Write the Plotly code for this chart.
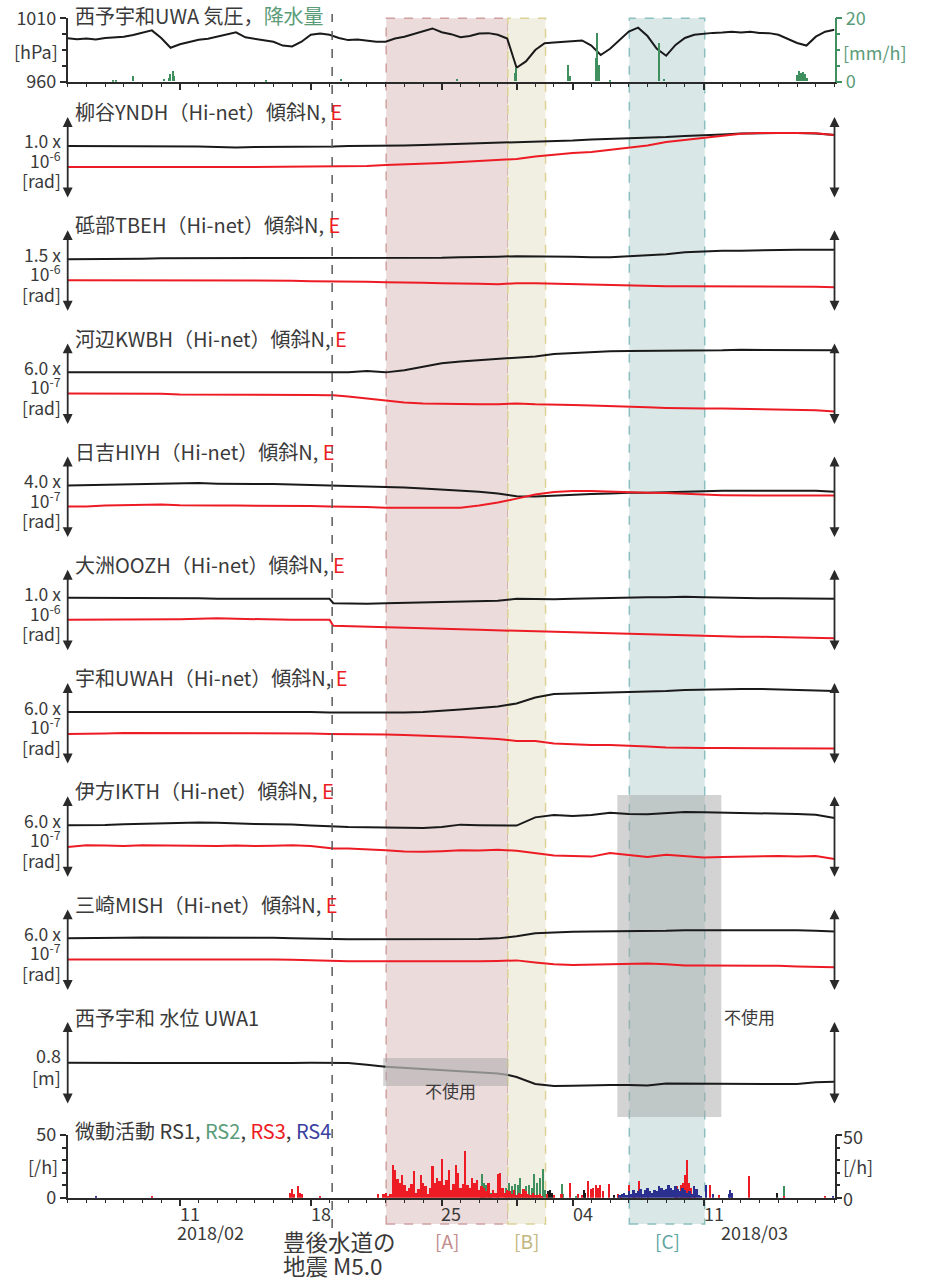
import pandas as pd
import plotly.graph_objects as go

W, H = 928, 1280
START = pd.Timestamp("2018-02-05")
END = pd.Timestamp("2018-03-18")
FONT = "Noto Sans CJK JP, Noto Sans, sans-serif"
TXT = "#3a3a3a"
AX = "#2a2a2a"
BLACK = "#1a1a1a"
RED = "#ED1C24"
GREEN = "#3f8f5f"
GREEN_T = "#5a9c78"
BLUE = "#2b2f8f"
BLUE_T = "#3b3fa0"


def T(days):
    return [START + pd.Timedelta(days=float(d)) for d in days]


# ---------------- data ----------------
# Pressure [hPa], every 12 h from 2018-02-05
P_DAYS = [i * 0.5 for i in range(83)]
PRESSURE = [994.2, 993.5, 994.0, 993.2, 994.5, 995.0, 995.5, 996.8, 998.5, 1000.5,
            994.5, 986.8, 989.5, 991.5, 993.0, 993.8, 995.5, 997.0, 999.0, 995.0,
            994.0, 993.0, 991.5, 988.5, 987.8, 991.5, 997.0, 998.0, 997.0, 994.5,
            992.8, 993.2, 992.3, 991.5, 991.5, 994.0, 995.5, 997.5, 1000.0, 1002.0,
            999.0, 997.5, 995.0, 996.0, 998.0, 998.3, 997.0, 994.0, 971.0, 976.0,
            985.0, 990.3, 991.0, 991.5, 991.6, 992.5, 988.5, 981.0, 986.0, 993.0,
            999.5, 1002.6, 996.0, 986.0, 980.5, 989.0, 994.5, 997.0, 998.0, 998.5,
            998.8, 999.4, 998.8, 999.4, 998.5, 998.3, 997.0, 993.5, 990.5, 988.5,
            995.5, 999.4, 1001.0]

# Rain [mm/h]
RAIN_DAYS = [2.4, 2.55, 3.48, 5.12, 5.4, 5.48, 5.6, 5.65, 10.6, 14.6, 20.8, 23.9, 23.95,
             26.75, 26.82, 28.22, 28.28, 28.4, 29.0, 31.6, 31.85, 39.0, 39.1, 39.2, 39.3,
             39.4, 39.5]
RAIN_MM = [0.3, 0.3, 1.6, 0.7, 1.0, 2.4, 3.4, 1.6, 0.3, 0.8, 0.7, 2.8, 4.2,
           5.3, 1.8, 7.4, 15.2, 5.3, 0.3, 12.1, 0.7, 2.0, 3.2, 2.6, 3.0, 2.2, 1.2]

# Tilt [1e-7 rad], daily (extra point just after the earthquake)
DAYS = list(range(0, 15)) + [14.2] + list(range(15, 42))

YNDH_N = [6.47, 6.47, 6.47, 6.47, 6.47, 6.41, 6.41, 6.41, 6.34, 6.28, 6.34, 6.34, 6.41, 6.41, 6.41, 6.41,
          6.47, 6.47, 6.47, 6.53, 6.59, 6.65, 6.71, 6.77, 6.83, 6.89, 7.02, 7.08, 7.14, 7.26, 7.32, 7.44,
          7.50, 7.56, 7.69, 7.75, 7.87, 7.99, 8.05, 8.05, 8.05, 7.99, 7.81]
YNDH_E = [3.90, 3.91, 3.90, 3.89, 3.88, 3.88, 3.89, 3.90, 3.90, 3.89, 3.90, 3.91, 3.92, 3.92, 3.94, 3.94,
          3.97, 4.03, 4.15, 4.21, 4.27, 4.39, 4.51, 4.64, 4.76, 4.88, 5.19, 5.43, 5.61, 5.73, 5.98, 6.26,
          6.53, 6.95, 7.20, 7.47, 7.75, 7.97, 8.05, 8.08, 8.05, 8.02, 7.81]

TBEH_N = [9.70, 9.70, 9.79, 9.79, 9.79, 9.88, 9.88, 9.88, 9.88, 9.88, 9.88, 9.88, 9.88, 9.88, 9.88, 9.88,
          9.88, 9.88, 9.88, 9.88, 9.97, 9.97, 10.07, 10.07, 10.16, 10.25, 10.25, 10.25, 10.16, 10.07, 10.07,
          10.25, 10.43, 10.61, 10.98, 11.16, 11.25, 11.25, 11.35, 11.35, 11.44, 11.44, 11.44]
TBEH_E = [5.86, 5.86, 5.86, 5.86, 5.86, 5.86, 5.86, 5.86, 5.86, 5.86, 5.86, 5.86, 5.76, 5.67, 5.67, 5.67,
          5.67, 5.58, 5.49, 5.49, 5.40, 5.31, 5.31, 5.22, 5.12, 5.31, 5.31, 5.22, 5.12, 5.12, 5.03, 4.94,
          4.85, 4.76, 4.76, 4.76, 4.76, 4.76, 4.76, 4.76, 4.67, 4.67, 4.58]

KWBH_N = [3.88, 3.88, 3.92, 3.92, 3.92, 3.92, 3.92, 3.92, 3.88, 3.88, 3.88, 3.88, 3.88, 3.88, 3.88, 3.88,
          3.88, 3.98, 3.88, 4.03, 4.28, 4.54, 4.68, 4.76, 4.87, 4.94, 5.05, 5.23, 5.31, 5.38, 5.42, 5.45,
          5.45, 5.49, 5.49, 5.49, 5.49, 5.53, 5.53, 5.49, 5.49, 5.49, 5.49]
KWBH_E = [2.34, 2.34, 2.31, 2.31, 2.34, 2.31, 2.27, 2.27, 2.27, 2.27, 2.23, 2.23, 2.27, 2.23, 2.20, 2.20,
          2.12, 1.98, 1.83, 1.68, 1.61, 1.57, 1.54, 1.54, 1.54, 1.61, 1.54, 1.54, 1.50, 1.46, 1.43, 1.35,
          1.32, 1.28, 1.24, 1.24, 1.24, 1.21, 1.17, 1.17, 1.13, 1.10, 1.02]

HIYH_N = [2.59, 2.61, 2.61, 2.64, 2.66, 2.68, 2.68, 2.71, 2.68, 2.66, 2.66, 2.66, 2.64, 2.61, 2.59, 2.59,
          2.56, 2.54, 2.51, 2.49, 2.44, 2.39, 2.34, 2.29, 2.20, 2.07, 2.05, 2.10, 2.15, 2.17, 2.20, 2.24,
          2.24, 2.27, 2.29, 2.32, 2.34, 2.34, 2.34, 2.34, 2.37, 2.34, 2.29]
HIYH_E = [1.56, 1.56, 1.61, 1.63, 1.66, 1.66, 1.63, 1.61, 1.61, 1.61, 1.61, 1.61, 1.61, 1.59, 1.56, 1.56,
          1.56, 1.54, 1.51, 1.51, 1.51, 1.51, 1.51, 1.61, 1.76, 1.95, 2.15, 2.27, 2.32, 2.32, 2.29, 2.24,
          2.24, 2.22, 2.20, 2.15, 2.12, 2.10, 2.10, 2.10, 2.10, 2.10, 2.10]

OOZH_N = [6.59, 6.59, 6.59, 6.53, 6.59, 6.59, 6.53, 6.53, 6.47, 6.47, 6.53, 6.53, 6.47, 6.47, 6.47, 5.92,
          5.86, 5.86, 5.92, 5.98, 5.98, 6.04, 6.10, 6.16, 6.22, 6.47, 6.41, 6.41, 6.47, 6.53, 6.59, 6.59,
          6.65, 6.65, 6.71, 6.65, 6.59, 6.59, 6.53, 6.53, 6.53, 6.53, 6.47]
OOZH_E = [3.90, 3.90, 3.90, 3.90, 3.90, 3.97, 3.97, 4.03, 4.09, 4.03, 3.97, 3.97, 3.90, 3.90, 3.90, 3.17,
          3.11, 3.05, 2.99, 2.93, 2.87, 2.81, 2.75, 2.68, 2.62, 2.56, 2.50, 2.44, 2.38, 2.32, 2.20, 2.14,
          2.07, 2.01, 1.95, 1.89, 1.83, 1.83, 1.83, 1.77, 1.77, 1.71, 1.65]

UWAH_N = [3.88, 3.88, 3.88, 3.88, 3.88, 3.92, 3.92, 3.92, 3.88, 3.88, 3.88, 3.88, 3.88, 3.88, 3.84, 3.84,
          3.81, 3.81, 3.81, 3.84, 3.88, 3.95, 4.06, 4.17, 4.28, 4.50, 4.94, 5.20, 5.23, 5.27, 5.31, 5.34,
          5.38, 5.42, 5.49, 5.53, 5.56, 5.56, 5.56, 5.53, 5.49, 5.45, 5.42]
UWAH_E = [2.27, 2.27, 2.31, 2.34, 2.34, 2.34, 2.34, 2.34, 2.34, 2.34, 2.31, 2.31, 2.31, 2.31, 2.27, 2.27,
          2.27, 2.27, 2.23, 2.20, 2.16, 2.12, 2.05, 1.98, 1.90, 1.76, 1.76, 1.57, 1.50, 1.46, 1.46, 1.43,
          1.35, 1.28, 1.24, 1.24, 1.24, 1.24, 1.24, 1.24, 1.24, 1.24, 1.21]

IKTH_N = [3.88, 3.88, 3.90, 3.95, 3.98, 4.02, 4.06, 4.08, 4.06, 4.00, 3.97, 3.95, 3.93, 3.85, 3.78, 3.77,
          3.74, 3.72, 3.70, 3.68, 3.68, 3.75, 3.92, 3.88, 3.86, 3.85, 4.45, 4.62, 4.55, 4.62, 4.78, 4.70,
          4.68, 4.78, 4.85, 4.82, 4.80, 4.80, 4.78, 4.75, 4.70, 4.65, 4.40]
IKTH_E = [2.29, 2.42, 2.40, 2.35, 2.42, 2.40, 2.38, 2.40, 2.36, 2.40, 2.36, 2.38, 2.42, 2.36, 2.25, 2.18,
          2.17, 2.12, 2.05, 1.95, 1.93, 1.98, 2.05, 2.02, 2.08, 2.00, 1.85, 1.66, 1.62, 1.58, 1.85, 1.70,
          1.55, 1.72, 1.62, 1.52, 1.55, 1.58, 1.60, 1.62, 1.58, 1.63, 1.40]

MISH_N = [3.88, 3.88, 3.92, 3.92, 3.95, 3.95, 3.95, 3.95, 3.92, 3.92, 3.92, 3.92, 3.88, 3.88, 3.84, 3.84,
          3.81, 3.81, 3.81, 3.81, 3.81, 3.84, 3.84, 3.84, 3.88, 4.03, 4.25, 4.32, 4.36, 4.39, 4.39, 4.43,
          4.43, 4.43, 4.47, 4.47, 4.47, 4.50, 4.50, 4.50, 4.47, 4.43, 4.39]
MISH_E = [2.34, 2.34, 2.34, 2.38, 2.38, 2.34, 2.34, 2.34, 2.34, 2.34, 2.34, 2.34, 2.31, 2.27, 2.23, 2.20,
          2.20, 2.20, 2.20, 2.16, 2.16, 2.20, 2.20, 2.20, 2.23, 2.27, 2.12, 1.98, 1.94, 1.98, 1.98, 2.01,
          2.05, 1.98, 1.90, 1.90, 1.90, 1.90, 1.87, 1.87, 1.83, 1.79, 1.76]

# Water level [m]
W_DAYS = list(range(0, 24)) + [23.55] + list(range(24, 42))
WATER = [0.408, 0.406, 0.408, 0.405, 0.404, 0.406, 0.405, 0.404, 0.404, 0.406, 0.406, 0.405,
         0.406, 0.407, 0.408, 0.405, 0.388, 0.369, 0.357, 0.347, 0.337, 0.321, 0.313, 0.304,
         0.289, 0.270, 0.202, 0.183, 0.185, 0.190, 0.193, 0.192, 0.187, 0.207, 0.206, 0.206,
         0.205, 0.205, 0.204, 0.203, 0.202, 0.220, 0.225]

# Tremor counts [/h]
RS1_DAYS = [25.7, 25.8, 25.9, 27.6, 27.67, 29.2, 37.9]
RS1 = [5, 6.5, 4, 6, 4, 2, 4]
RS2_DAYS = [22.1, 22.17, 22.25, 22.35, 22.5, 22.65, 23.0, 23.45, 23.6, 23.75, 23.9, 24.05, 24.2,
            24.35, 24.5, 24.65, 24.8, 24.94, 25.1, 25.25, 25.39, 25.5, 25.6, 26.41, 26.5, 27.2, 38.3]
RS2 = [8, 19, 12, 10, 6, 4, 3, 8, 12, 9, 11, 10, 16, 7, 9, 10, 8, 19, 12, 16, 23, 6, 3, 11, 3, 1, 9]
RS3_BLOCK_START = 16.75
RS3_BLOCK = [0, 3, 4, 1, 3, 26, 22, 15, 12, 18, 10, 5, 8, 11, 21, 4, 7, 18, 12, 9, 3, 8, 25, 12,
             16, 13, 31, 10, 14, 22, 6, 11, 26, 20, 8, 11, 37, 10, 8, 16, 12, 14, 6, 9, 8, 5, 12,
             3, 6, 4, 19, 20, 8, 4, 6, 5, 3, 6, 2, 4, 3, 7, 5, 3, 2, 4, 2, 2, 3, 1]
RS3_DAYS = [4.5, 11.9, 12.0, 12.1, 12.3, 12.4, 12.5, 13.5, 16.6, 25.6, 26.0, 26.4, 26.86, 27.3,
            27.5, 27.84, 28.0, 28.1, 28.25, 28.35, 28.48, 28.6, 28.93, 29.4, 29.6, 30.03, 30.2,
            30.35, 30.52, 30.7, 31.0, 32.45, 32.55, 32.65, 32.8, 32.9, 33.0, 33.12, 33.2, 33.3,
            33.5, 33.55, 34.32, 34.8, 35.5, 36.4, 38.3, 40.5]
RS3 = [1, 4, 7, 3, 9, 4, 3, 1, 3, 3, 2, 3, 12, 3, 2, 13, 7, 8, 10, 8, 10, 5, 11, 3, 2, 10, 5,
       4, 13, 3, 2, 6, 9, 7, 10, 12, 18, 30, 12, 8, 5, 4, 10, 2, 2, 17, 1, 1]
RS4_BLOCK_START = 29.5
RS4_BLOCK = [2, 3, 4, 2, 5, 3, 6, 4, 5, 7, 3, 6, 8, 5, 4, 6, 5, 9, 8, 6, 7, 10, 8, 6, 9, 7, 5,
             8, 6, 4, 5, 3, 9, 7, 2, 1, 0, 10]
RS4_DAYS = [1.5, 34.5, 35.35, 35.4, 35.5, 40.9]
RS4 = [1, 3, 3, 6, 4, 1]

QUAKE_DAY = 14.14
REGIONS = [(17.03, 23.53, "rgba(235,219,219,1)", "rgb(208,160,160)", "[A]", "#c48c8c"),
           (23.53, 25.55, "rgba(241,239,225,1)", "rgb(220,210,150)", "[B]", "#c2b77e"),
           (30.03, 34.06, "rgba(218,231,231,1)", "rgb(140,192,192)", "[C]", "#5fa5a3")]
UNUSED = [(16.87, 23.55, 1058, 1086), (29.39, 34.95, 795, 1117)]

PANELS = [("柳谷YNDH", YNDH_N, YNDH_E, 10, "1.0 x", "-6"),
          ("砥部TBEH", TBEH_N, TBEH_E, 15, "1.5 x", "-6"),
          ("河辺KWBH", KWBH_N, KWBH_E, 6, "6.0 x", "-7"),
          ("日吉HIYH", HIYH_N, HIYH_E, 4, "4.0 x", "-7"),
          ("大洲OOZH", OOZH_N, OOZH_E, 10, "1.0 x", "-6"),
          ("宇和UWAH", UWAH_N, UWAH_E, 6, "6.0 x", "-7"),
          ("伊方IKTH", IKTH_N, IKTH_E, 6, "6.0 x", "-7"),
          ("三崎MISH", MISH_N, MISH_E, 6, "6.0 x", "-7")]

MAJOR_TICKS = ["2018-02-11", "2018-02-18", "2018-02-25", "2018-03-01", "2018-03-04", "2018-03-11"]


# ---------------- layout helpers ----------------
def yp(py):
    return 1 - py / H


XDOM = [67.7 / W, 834.5 / W]
PANEL_TOP0 = 117.0
PANEL_STEP = 113.2
PANEL_LEN = 82.0
TITLE_SIZE = 20


def ann(text, xpx, ypx, xanchor="left", size=18, color=TXT):
    return dict(text=text, x=xpx / W, y=yp(ypx), xref="paper", yref="paper",
                xanchor=xanchor, yanchor="middle", showarrow=False,
                font=dict(size=size, color=color, family=FONT))


def arrow(xe, top, yref):
    return dict(x=xe, y=top, ax=xe, ay=0, xref="x", yref=yref, axref="x", ayref=yref,
                text="", showarrow=True, arrowhead=2, arrowside="end+start",
                arrowsize=1.1, arrowwidth=1.8, arrowcolor=AX)


fig = go.Figure()

# top panel: pressure + rain
fig.add_trace(go.Bar(x=T(RAIN_DAYS), y=RAIN_MM, width=[5400000] * len(RAIN_DAYS),
                     marker=dict(color=GREEN, line=dict(width=0)), xaxis="x2", yaxis="y3"))
fig.add_trace(go.Scatter(x=T(P_DAYS), y=PRESSURE, mode="lines", line=dict(color=BLACK, width=2),
                         xaxis="x2", yaxis="y2"))

layout = dict(
    width=W, height=H, margin=dict(l=0, r=0, t=0, b=0, autoexpand=False),
    paper_bgcolor="white", plot_bgcolor="rgba(0,0,0,0)", showlegend=False,
    barmode="overlay", bargap=0, font=dict(family=FONT, size=18, color=TXT),
)

xcommon = dict(domain=XDOM, range=[START, END], type="date", showgrid=False, zeroline=False,
               showline=True, linecolor=AX, linewidth=1.5, ticks="outside", tickmode="array",
               tickvals=MAJOR_TICKS, ticklen=7, tickwidth=1.5, tickcolor=AX, showticklabels=False,
               automargin=False,
               minor=dict(ticks="outside", ticklen=4, tickwidth=1, tickcolor=AX,
                          tickmode="linear", tick0="2018-02-05", dtick=86400000, showgrid=False))
layout["xaxis"] = dict(xcommon, anchor="y")
layout["xaxis2"] = dict(xcommon, anchor="y2", matches="x")

# tremor axis
layout["yaxis"] = dict(domain=[yp(1197.7), yp(1135)], range=[0, 50], anchor="x", automargin=False,
                       showgrid=False, zeroline=False, showline=True, linecolor=AX, linewidth=1.5,
                       ticks="outside", tickvals=[0, 50], ticklen=6, tickcolor=AX, tickwidth=1.5,
                       mirror="ticks", tickfont=dict(size=18, color=TXT),
                       minor=dict(ticks="outside", ticklen=4, tickcolor=AX, dtick=10, tick0=0))
# pressure / rain axes
layout["yaxis2"] = dict(domain=[yp(81.7), yp(18.3)], range=[960, 1010], anchor="x2", automargin=False,
                        showgrid=False, zeroline=False, showline=True, linecolor=AX, linewidth=1.5,
                        ticks="outside", tickvals=[960, 1010], ticklen=6, tickcolor=AX, tickwidth=1.5,
                        tickfont=dict(size=18, color=TXT),
                        minor=dict(ticks="outside", ticklen=4, tickcolor=AX, dtick=12.5, tick0=960))
layout["yaxis3"] = dict(range=[0, 20], anchor="x2", overlaying="y2", side="right", automargin=False,
                        showgrid=False, zeroline=False, showline=True, linecolor=GREEN, linewidth=1.5,
                        ticks="outside", tickvals=[0, 20], ticklen=6, tickcolor=GREEN, tickwidth=1.5,
                        tickfont=dict(size=18, color=GREEN_T),
                        minor=dict(ticks="outside", ticklen=4, tickcolor=GREEN, dtick=5, tick0=0))

annotations = []
shapes = []

# title for top panel
annotations.append(ann("西予宇和UWA 気圧，<span style='color:%s'>降水量</span>" % GREEN_T,
                       73, 15, size=TITLE_SIZE))
annotations.append(ann("[hPa]", 60, 51, xanchor="right"))
annotations.append(ann("[mm/h]", 841, 52, color=GREEN_T))

# tilt panels
for k, (name, n_vals, e_vals, scale, mant, expo) in enumerate(PANELS):
    ax_id = 4 + k
    top = PANEL_TOP0 + PANEL_STEP * k
    layout["yaxis%d" % ax_id] = dict(domain=[yp(top + PANEL_LEN), yp(top)], range=[0, scale],
                                     anchor="x", visible=False)
    fig.add_trace(go.Scatter(x=T(DAYS), y=n_vals, mode="lines", line=dict(color=BLACK, width=2),
                             xaxis="x", yaxis="y%d" % ax_id))
    fig.add_trace(go.Scatter(x=T(DAYS), y=e_vals, mode="lines", line=dict(color=RED, width=2),
                             xaxis="x", yaxis="y%d" % ax_id))
    annotations.append(ann("%s（Hi-net）傾斜N, <span style='color:%s'>E</span>" % (name, RED),
                           73, top - 5.3, size=TITLE_SIZE))
    annotations.append(ann(mant, 63, top + 24, xanchor="right", size=17.5))
    annotations.append(ann("10<sup>%s</sup>" % expo, 63, top + 43, xanchor="right", size=17.5))
    annotations.append(ann("[rad]", 63, top + 64, xanchor="right", size=17.5))
    for xe in (START, END):
        annotations.append(arrow(xe, scale, "y%d" % ax_id))

# water panel
W_TOP, W_BOT = 1022, 1105
layout["yaxis12"] = dict(domain=[yp(W_BOT), yp(W_TOP)], range=[0, 0.8], anchor="x", visible=False)
seg1 = [(d, v) for d, v in zip(W_DAYS, WATER) if d <= 17]
seg2 = [(d, v) for d, v in zip(W_DAYS, WATER) if 17 <= d <= 23.55]
seg3 = [(d, v) for d, v in zip(W_DAYS, WATER) if d >= 23.55]
for seg, col in ((seg1, BLACK), (seg2, "#8c8c8c"), (seg3, BLACK)):
    fig.add_trace(go.Scatter(x=T([s[0] for s in seg]), y=[s[1] for s in seg], mode="lines",
                             line=dict(color=col, width=2), xaxis="x", yaxis="y12"))
annotations.append(ann("西予宇和 水位 UWA1", 73, 1017, size=TITLE_SIZE))
annotations.append(ann("0.8", 63, 1055, xanchor="right"))
annotations.append(ann("[m]", 63, 1077, xanchor="right"))
for xe in (START, END):
    annotations.append(arrow(xe, 0.8, "y12"))

# tremor bars
rs3_block_days = [RS3_BLOCK_START + 0.125 * i for i in range(len(RS3_BLOCK))]
rs4_block_days = [RS4_BLOCK_START + 0.125 * i for i in range(len(RS4_BLOCK))]
bar_sets = [(RS1_DAYS, RS1, BLACK, 7000000),
            (RS2_DAYS, RS2, GREEN, 7000000),
            (rs3_block_days, RS3_BLOCK, RED, 8500000),
            (RS3_DAYS, RS3, RED, 7000000),
            (rs4_block_days, RS4_BLOCK, BLUE, 8500000),
            (RS4_DAYS, RS4, BLUE, 7000000)]
for d, v, c, wms in bar_sets:
    fig.add_trace(go.Bar(x=T(d), y=v, width=[wms] * len(d), marker=dict(color=c, line=dict(width=0)),
                         xaxis="x", yaxis="y"))
annotations.append(ann("微動活動 RS1, <span style='color:%s'>RS2</span>, "
                       "<span style='color:%s'>RS3</span>, <span style='color:%s'>RS4</span>"
                       % (GREEN_T, RED, BLUE_T), 73, 1130, size=TITLE_SIZE))
annotations.append(ann("[/h]", 60, 1166, xanchor="right"))
annotations.append(ann("50", 841, 1136))
annotations.append(ann("[/h]", 841, 1166))
annotations.append(ann("0", 841, 1198))

# x labels
annotations.append(ann("11", 178, 1213))
annotations.append(ann("2018/02", 175, 1232))
annotations.append(ann("18", 309, 1213))
annotations.append(ann("25", 439, 1213))
annotations.append(ann("04", 571, 1213))
annotations.append(ann("11", 702, 1213))
annotations.append(ann("2018/03", 719, 1232))
annotations.append(ann("豊後水道の", 281, 1241, size=22.5))
annotations.append(ann("地震 M5.0", 281, 1265, size=22.5))

# shaded regions
for x0, x1, fill, edge, lab, labc in REGIONS:
    shapes.append(dict(type="rect", xref="x", yref="paper", x0=T([x0])[0], x1=T([x1])[0],
                       y0=yp(1224), y1=yp(18.3), fillcolor=fill, layer="below",
                       line=dict(color=edge, width=1.5, dash="dash")))
    annotations.append(dict(text=lab, x=T([(x0 + x1) / 2])[0], y=yp(1240), xref="x", yref="paper",
                            xanchor="center", yanchor="middle", showarrow=False,
                            font=dict(size=19, color=labc, family=FONT)))
for x0, x1, ytop, ybot in UNUSED:
    shapes.append(dict(type="rect", xref="x", yref="paper", x0=T([x0])[0], x1=T([x1])[0],
                       y0=yp(ybot), y1=yp(ytop), fillcolor="rgba(165,165,165,0.49)",
                       layer="below", line=dict(width=0)))
annotations.append(ann("不使用", 423, 1090, size=17))
annotations.append(ann("不使用", 722, 1016, size=17))

# earthquake line
shapes.append(dict(type="line", xref="x", yref="paper", x0=T([QUAKE_DAY])[0], x1=T([QUAKE_DAY])[0],
                   y0=yp(1228), y1=yp(14), line=dict(color="#5a5a5a", width=1.5, dash="dash"),
                   layer="above"))

layout["annotations"] = annotations
layout["shapes"] = shapes
fig.update_layout(**layout)
fig.write_html("out.html")
